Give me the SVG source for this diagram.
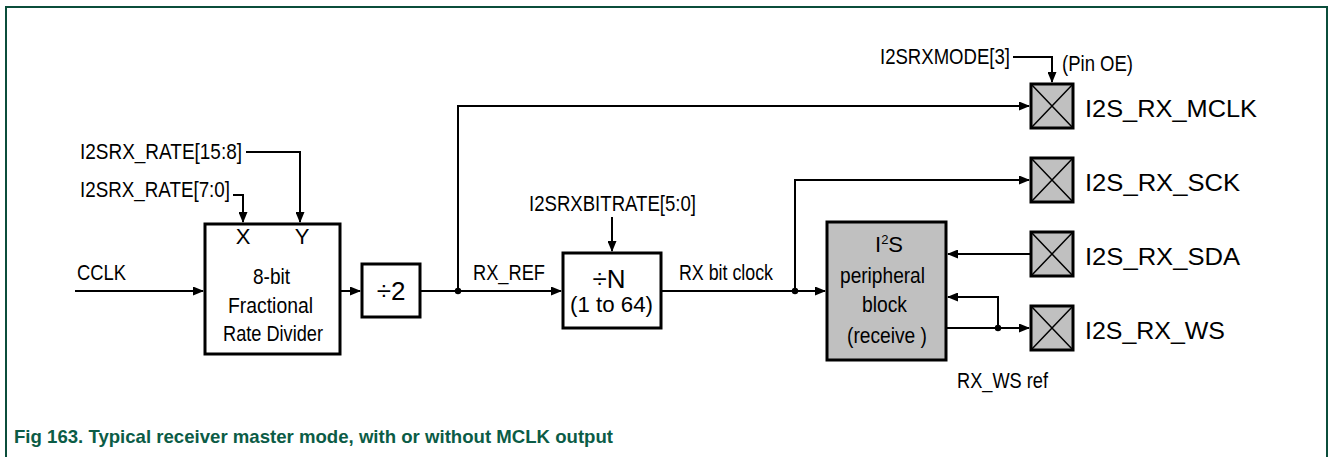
<svg xmlns="http://www.w3.org/2000/svg" width="1330" height="457" viewBox="0 0 1330 457">
<style>
.t{font-family:"Liberation Sans",Arial,sans-serif;font-size:22px;fill:#000}
.p{font-family:"Liberation Sans",Arial,sans-serif;font-size:24px;fill:#000}
.big{font-size:26px}
.box{fill:#fff;stroke:#000;stroke-width:3}
.gbox{fill:#c0c0c0;stroke:#000;stroke-width:3}
.pad{fill:#c0c0c0;stroke:#000;stroke-width:3}
.x{stroke:#000;stroke-width:1.5;fill:none}
.w{fill:none;stroke:#000;stroke-width:2}
.cap{font-family:"Liberation Sans",Arial,sans-serif;font-size:19px;font-weight:bold;fill:#0b5c46}
</style>
<defs>
<marker id="ah" markerUnits="userSpaceOnUse" markerWidth="11" markerHeight="9" refX="10" refY="4.5" orient="auto">
<path d="M0,0 L11,4.5 L0,9 z" fill="#000"/>
</marker>
</defs>
<rect width="1330" height="457" fill="#fff"/>
<path d="M6,457 V7 H1327 V457" fill="none" stroke="#0b4d3b" stroke-width="2"/>

<g id="connectors">
<path class="w" d="M75,291 H203" marker-end="url(#ah)"/>
<path class="w" d="M246,152 H300 V222" marker-end="url(#ah)"/>
<path class="w" d="M233,195 H243 V222" marker-end="url(#ah)"/>
<path class="w" d="M341,291 H360" marker-end="url(#ah)"/>
<path class="w" d="M421,291 H561" marker-end="url(#ah)"/>
<path class="w" d="M458,291 V106 H1029" marker-end="url(#ah)"/>
<path class="w" d="M612,217 V251" marker-end="url(#ah)"/>
<path class="w" d="M661,291 H825" marker-end="url(#ah)"/>
<path class="w" d="M795,291 V180 H1029" marker-end="url(#ah)"/>
<path class="w" d="M1031,254 H948" marker-end="url(#ah)"/>
<path class="w" d="M947,328 H1029" marker-end="url(#ah)"/>
<path class="w" d="M998,328 V297 H948" marker-end="url(#ah)"/>
<path class="w" d="M1013,57 H1052 V82" marker-end="url(#ah)"/>
<circle cx="458" cy="291" r="3.2" fill="#000"/>
<circle cx="795" cy="291" r="3.2" fill="#000"/>
<circle cx="998" cy="328" r="3.2" fill="#000"/>
</g>

<g id="labels">
<text class="t" x="80" y="159" textLength="162" lengthAdjust="spacingAndGlyphs">I2SRX_RATE[15:8]</text>
<text class="t" x="80" y="197" textLength="150" lengthAdjust="spacingAndGlyphs">I2SRX_RATE[7:0]</text>
<text class="t" x="77" y="280" textLength="49" lengthAdjust="spacingAndGlyphs">CCLK</text>
<text class="t" x="473" y="280" textLength="72" lengthAdjust="spacingAndGlyphs">RX_REF</text>
<text class="t" x="529" y="211" textLength="167" lengthAdjust="spacingAndGlyphs">I2SRXBITRATE[5:0]</text>
<text class="t" x="679" y="280" textLength="94" lengthAdjust="spacingAndGlyphs">RX bit clock</text>
<text class="t" x="880" y="64" textLength="130" lengthAdjust="spacingAndGlyphs">I2SRXMODE[3]</text>
<text class="t" x="1062" y="71" textLength="71" lengthAdjust="spacingAndGlyphs">(Pin OE)</text>
<text class="t" x="957" y="388" textLength="91" lengthAdjust="spacingAndGlyphs">RX_WS ref</text>
</g>

<g id="frac-divider">
<rect class="box" x="205" y="224" width="135" height="130"/>
<text class="t" x="243" y="244" text-anchor="middle">X</text>
<text class="t" x="302" y="244" text-anchor="middle">Y</text>
<text class="t" x="253" y="284" textLength="37" lengthAdjust="spacingAndGlyphs">8-bit</text>
<text class="t" x="228" y="313" textLength="85" lengthAdjust="spacingAndGlyphs">Fractional</text>
<text class="t" x="223" y="341" textLength="100" lengthAdjust="spacingAndGlyphs">Rate Divider</text>
</g>

<g id="div2">
<rect class="box" x="362" y="264" width="58" height="53"/>
<text class="t big" x="391" y="300" text-anchor="middle">÷2</text>
</g>

<g id="divN">
<rect class="box" x="563" y="253" width="98" height="75"/>
<text class="t big" x="609" y="288" text-anchor="middle">÷N</text>
<text class="t" x="570" y="312" textLength="83" lengthAdjust="spacingAndGlyphs">(1 to 64)</text>
</g>

<g id="i2s-block">
<rect class="gbox" x="827" y="222" width="119" height="138"/>
<text class="t" x="875" y="252">I<tspan style="font-size:13px" dy="-8">2</tspan><tspan dy="8">S</tspan></text>
<text class="t" x="840" y="283" textLength="85" lengthAdjust="spacingAndGlyphs">peripheral</text>
<text class="t" x="862" y="312" textLength="45" lengthAdjust="spacingAndGlyphs">block</text>
<text class="t" x="847" y="343" textLength="80" lengthAdjust="spacingAndGlyphs">(receive )</text>
</g>

<g id="pad-mclk">
<rect class="pad" x="1031" y="84" width="42" height="44"/>
<path class="x" d="M1031,84 L1073,128 M1073,84 L1031,128"/>
<text class="p" x="1085" y="117" textLength="172" lengthAdjust="spacingAndGlyphs">I2S_RX_MCLK</text>
</g>
<g id="pad-sck">
<rect class="pad" x="1031" y="158" width="42" height="44"/>
<path class="x" d="M1031,158 L1073,202 M1073,158 L1031,202"/>
<text class="p" x="1085" y="191" textLength="155" lengthAdjust="spacingAndGlyphs">I2S_RX_SCK</text>
</g>
<g id="pad-sda">
<rect class="pad" x="1031" y="232" width="42" height="44"/>
<path class="x" d="M1031,232 L1073,276 M1073,232 L1031,276"/>
<text class="p" x="1085" y="265" textLength="155" lengthAdjust="spacingAndGlyphs">I2S_RX_SDA</text>
</g>
<g id="pad-ws">
<rect class="pad" x="1031" y="306" width="42" height="44"/>
<path class="x" d="M1031,306 L1073,350 M1073,306 L1031,350"/>
<text class="p" x="1085" y="339" textLength="140" lengthAdjust="spacingAndGlyphs">I2S_RX_WS</text>
</g>

<text class="cap" x="14" y="443" textLength="599" lengthAdjust="spacingAndGlyphs">Fig 163. Typical receiver master mode, with or without MCLK output</text>
</svg>
